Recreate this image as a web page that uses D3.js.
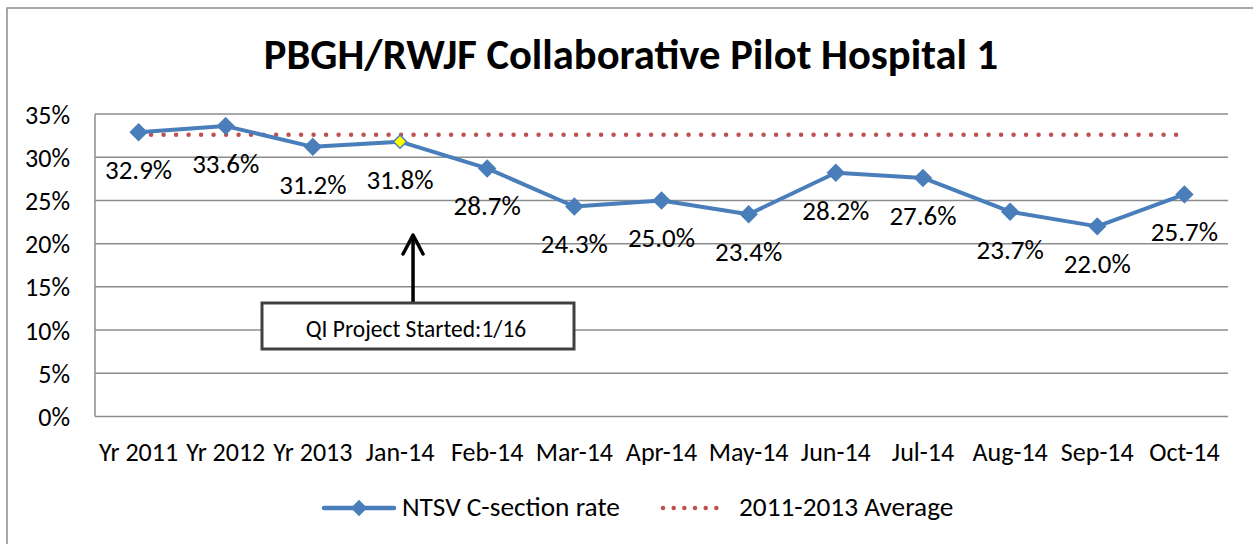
<!DOCTYPE html>
<html>
<head>
<meta charset="utf-8">
<script src="https://cdn.jsdelivr.net/npm/d3@7"></script>
<style>
  body { margin: 0; background: #fff; }
  text { font-family: Carlito, Lato, "Open Sans", sans-serif; }
</style>
</head>
<body>
<div id="chart"></div>
<script>
var width = 1253,
    height = 544;

var categories = ["Yr 2011", "Yr 2012", "Yr 2013", "Jan-14", "Feb-14", "Mar-14", "Apr-14",
                  "May-14", "Jun-14", "Jul-14", "Aug-14", "Sep-14", "Oct-14"];
var rates = [32.9, 33.6, 31.2, 31.8, 28.7, 24.3, 25.0, 23.4, 28.2, 27.6, 23.7, 22.0, 25.7];
var average = 32.6;
var yTicks = [0, 5, 10, 15, 20, 25, 30, 35];
var startCategory = "Jan-14";

var margin = {left: 95, right: 25, top: 114, bottom: 127.5};
var fontFam = "Carlito, Lato, 'Open Sans', sans-serif";

var svg = d3.select("#chart")
  .append("svg")
  .attr("width", width)
  .attr("height", height);

// outer chart border
svg.append("rect")
  .attr("x", 7).attr("y", 8)
  .attr("width", width + 20).attr("height", height + 20)
  .attr("fill", "none")
  .attr("stroke", "#8c8c8c")
  .attr("stroke-width", 1.5);

var x = d3.scaleBand()
  .domain(categories)
  .range([margin.left, width - margin.right]);

var y = d3.scaleLinear()
  .domain([0, 35])
  .range([height - margin.bottom, margin.top]);

// title
svg.append("text")
  .attr("x", 631).attr("y", 69)
  .attr("text-anchor", "middle")
  .attr("font-size", "42.6px")
  .attr("font-weight", "bold")
  .text("PBGH/RWJF Collaborative Pilot Hospital 1");

// gridlines
svg.append("g")
  .selectAll("line")
  .data(yTicks)
  .enter()
  .append("line")
  .attr("x1", margin.left)
  .attr("x2", width - margin.right)
  .attr("y1", function(d) { return y(d); })
  .attr("y2", function(d) { return y(d); })
  .attr("stroke", "#8c8c8c")
  .attr("stroke-width", 1.5);

// left axis line
svg.append("line")
  .attr("x1", margin.left).attr("x2", margin.left)
  .attr("y1", y(0)).attr("y2", y(35))
  .attr("stroke", "#8c8c8c")
  .attr("stroke-width", 1.5);

var yAxis = d3.axisLeft(y)
  .tickValues(yTicks)
  .tickSize(0)
  .tickPadding(25)
  .tickFormat(function(d) { return d + "%"; });

var yg = svg.append("g")
  .attr("transform", "translate(" + margin.left + ",0)")
  .call(yAxis);
yg.select(".domain").remove();
yg.selectAll("text")
  .attr("font-size", "26px")
  .attr("dy", "0.35em")
  .attr("fill", "#000")
  .style("font-family", fontFam);

var xAxis = d3.axisBottom(x)
  .tickSize(0);

var xg = svg.append("g")
  .attr("transform", "translate(0," + y(0) + ")")
  .call(xAxis);
xg.select(".domain").remove();
xg.selectAll("text")
  .attr("font-size", "26px")
  .attr("y", 44)
  .attr("dy", 0)
  .attr("fill", "#000")
  .style("font-family", fontFam);

var cx = function(d, i) { return x(categories[i]) + x.bandwidth() / 2; };

// average line
svg.append("line")
  .attr("x1", x(categories[0]) + x.bandwidth() / 2)
  .attr("x2", x(categories[categories.length - 1]) + x.bandwidth() / 2)
  .attr("y1", y(average))
  .attr("y2", y(average))
  .attr("stroke", "#c0504d")
  .attr("stroke-width", 4.5)
  .attr("stroke-linecap", "round")
  .attr("stroke-dasharray", "0,12.5");

// rate line
var line = d3.line()
  .x(cx)
  .y(function(d) { return y(d); });

svg.append("path")
  .datum(rates)
  .attr("d", line)
  .attr("fill", "none")
  .attr("stroke", "#4a7ebb")
  .attr("stroke-width", 4)
  .attr("stroke-linejoin", "round");

var diamond = d3.symbol().type(d3.symbolDiamond2).size(170);

svg.append("g")
  .selectAll("path")
  .data(rates)
  .enter()
  .append("path")
  .attr("d", function(d, i) { return categories[i] === startCategory ? d3.symbol().type(d3.symbolDiamond2).size(110)() : diamond(); })
  .attr("transform", function(d, i) { return "translate(" + cx(d, i) + "," + y(d) + ")"; })
  .attr("fill", function(d, i) { return categories[i] === startCategory ? "#ffff00" : "#4a7ebb"; })
  .attr("stroke", "#4a7ebb")
  .attr("stroke-width", 1.5);

// data labels
svg.append("g")
  .selectAll("text")
  .data(rates)
  .enter()
  .append("text")
  .attr("x", cx)
  .attr("y", function(d) { return y(d) + 47; })
  .attr("text-anchor", "middle")
  .attr("font-size", "27px")
  .text(function(d) { return d.toFixed(1) + "%"; });

// annotation
var ax = x(startCategory) + x.bandwidth() / 2 + 13;
svg.append("line")
  .attr("x1", ax).attr("x2", ax)
  .attr("y1", 302).attr("y2", 235)
  .attr("stroke", "#000")
  .attr("stroke-width", 3.5);
svg.append("path")
  .attr("d", "M" + (ax - 10) + ",254 L" + ax + ",235 L" + (ax + 10) + ",254")
  .attr("fill", "none")
  .attr("stroke", "#000")
  .attr("stroke-width", 3.5)
  .attr("stroke-linecap", "round")
  .attr("stroke-linejoin", "round");

svg.append("rect")
  .attr("x", 262).attr("y", 303)
  .attr("width", 312).attr("height", 46)
  .attr("fill", "#fff")
  .attr("stroke", "#404040")
  .attr("stroke-width", 3);
svg.append("text")
  .attr("x", 416).attr("y", 337)
  .attr("text-anchor", "middle")
  .attr("font-size", "23.5px")
  .text("QI Project Started:1/16");

// legend
var lg = svg.append("g");
lg.append("line")
  .attr("x1", 324).attr("x2", 394)
  .attr("y1", 508).attr("y2", 508)
  .attr("stroke", "#4a7ebb")
  .attr("stroke-width", 4.5)
  .attr("stroke-linecap", "round");
lg.append("path")
  .attr("d", diamond())
  .attr("transform", "translate(359,508)")
  .attr("fill", "#4a7ebb");
lg.append("text")
  .attr("x", 402).attr("y", 516)
  .attr("font-size", "27.3px")
  .text("NTSV C-section rate");
lg.append("line")
  .attr("x1", 663).attr("x2", 727)
  .attr("y1", 508).attr("y2", 508)
  .attr("stroke", "#c0504d")
  .attr("stroke-width", 4.5)
  .attr("stroke-linecap", "round")
  .attr("stroke-dasharray", "0,10.67");
lg.append("text")
  .attr("x", 739).attr("y", 516)
  .attr("font-size", "27.3px")
  .text("2011-2013 Average");
</script>
</body>
</html>
